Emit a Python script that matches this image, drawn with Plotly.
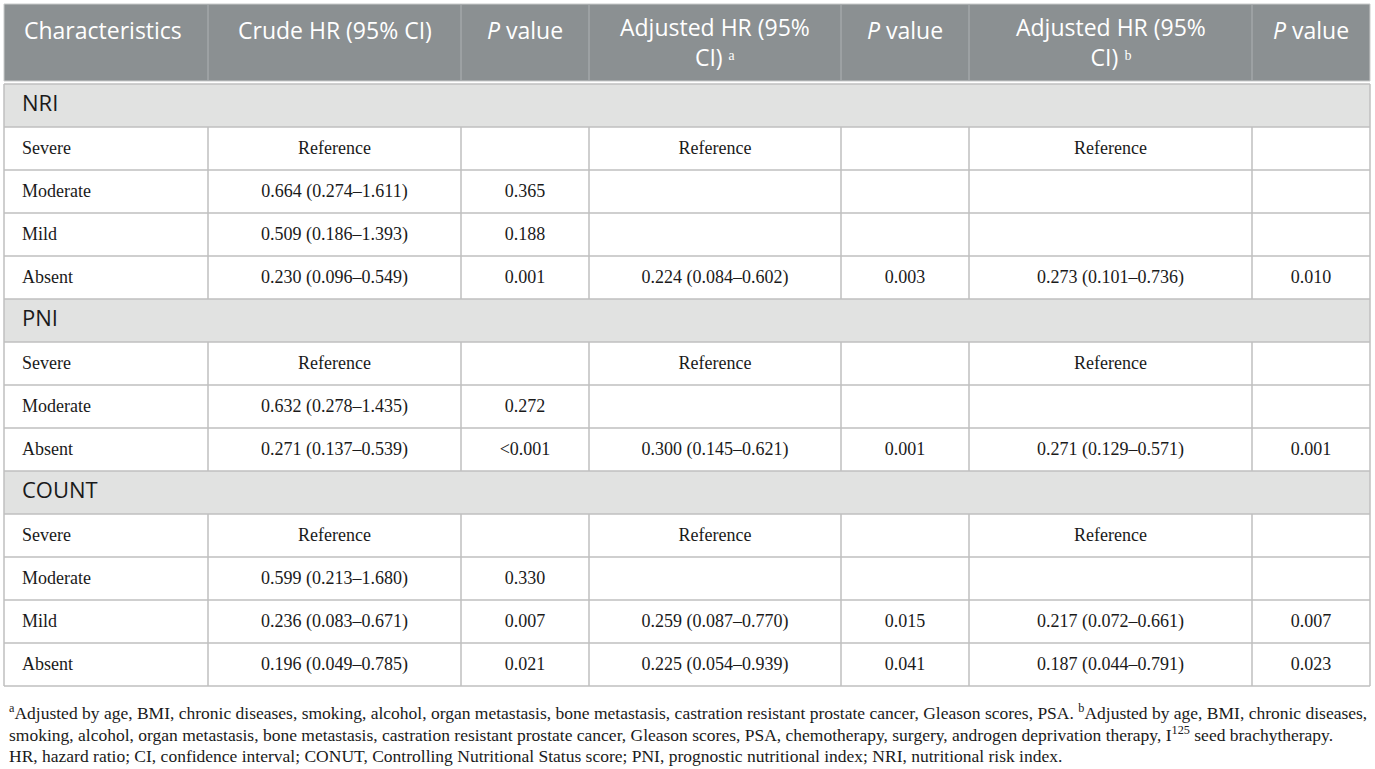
import plotly.graph_objects as go

# table content
headers = ["Characteristics", "Crude HR (95% CI)", "<i>P</i> value",
           "Adjusted HR (95%<br>CI) ᵃ", "<i>P</i> value",
           "Adjusted HR (95%<br>CI) ᵇ", "<i>P</i> value"]

characteristics = ["NRI", "Severe", "Moderate", "Mild", "Absent",
                   "PNI", "Severe", "Moderate", "Absent",
                   "COUNT", "Severe", "Moderate", "Mild", "Absent"]
group_rows = ["NRI", "PNI", "COUNT"]

crude_hr = ["", "Reference", "0.664 (0.274–1.611)", "0.509 (0.186–1.393)", "0.230 (0.096–0.549)",
            "", "Reference", "0.632 (0.278–1.435)", "0.271 (0.137–0.539)",
            "", "Reference", "0.599 (0.213–1.680)", "0.236 (0.083–0.671)", "0.196 (0.049–0.785)"]
crude_p = ["", "", "0.365", "0.188", "0.001",
           "", "", "0.272", "<0.001",
           "", "", "0.330", "0.007", "0.021"]
adj_hr_a = ["", "Reference", "", "", "0.224 (0.084–0.602)",
            "", "Reference", "", "0.300 (0.145–0.621)",
            "", "Reference", "", "0.259 (0.087–0.770)", "0.225 (0.054–0.939)"]
adj_p_a = ["", "", "", "", "0.003",
           "", "", "", "0.001",
           "", "", "", "0.015", "0.041"]
adj_hr_b = ["", "Reference", "", "", "0.273 (0.101–0.736)",
            "", "Reference", "", "0.271 (0.129–0.571)",
            "", "Reference", "", "0.217 (0.072–0.661)", "0.187 (0.044–0.791)"]
adj_p_b = ["", "", "", "", "0.010",
           "", "", "", "0.001",
           "", "", "", "0.007", "0.023"]

footnotes = [
    "<sup>a</sup>Adjusted by age, BMI, chronic diseases, smoking, alcohol, organ metastasis, bone metastasis, castration resistant prostate cancer, Gleason scores, PSA. <sup>b</sup>Adjusted by age, BMI, chronic diseases,",
    "smoking, alcohol, organ metastasis, bone metastasis, castration resistant prostate cancer, Gleason scores, PSA, chemotherapy, surgery, androgen deprivation therapy, I<sup>125</sup> seed brachytherapy.",
    "HR, hazard ratio; CI, confidence interval; CONUT, Controlling Nutritional Status score; PNI, prognostic nutritional index; NRI, nutritional risk index.",
]

# layout (pixel units on the axes)
W, H = 1375, 769
col_edges = [4, 208, 461, 589, 841, 969, 1252, 1370]
header_top, header_bottom = 4, 81
body_top = 84
row_h = 43
pad_left = 18

header_bg = "#8b9092"
group_bg = "#e1e2e1"
grid = "#bfbfbf"
serif = "Liberation Serif"
sans = "Open Sans"

body_cols = [crude_hr, crude_p, adj_hr_a, adj_p_a, adj_hr_b, adj_p_b]
n_rows = len(characteristics)
row_mid = [body_top + row_h * i + row_h / 2 + 1 for i in range(n_rows)]
col_mid = [(col_edges[j] + col_edges[j + 1]) / 2 for j in range(len(col_edges) - 1)]
table_bottom = body_top + row_h * n_rows

shapes = []
# header block
shapes.append(dict(type="rect", x0=col_edges[0], x1=col_edges[-1], y0=header_top, y1=header_bottom,
                   fillcolor=header_bg, line=dict(color="#c9cbcb", width=1), layer="below"))
for xe in col_edges[1:-1]:
    shapes.append(dict(type="line", x0=xe, x1=xe, y0=header_top, y1=header_bottom,
                       line=dict(color="#a9adaf", width=1.2)))

# body rows
for i, name in enumerate(characteristics):
    y0 = body_top + row_h * i
    y1 = y0 + row_h
    if name in group_rows:
        shapes.append(dict(type="rect", x0=col_edges[0], x1=col_edges[-1], y0=y0, y1=y1,
                           fillcolor=group_bg, line=dict(width=0), layer="below"))
    else:
        for xe in col_edges[1:-1]:
            shapes.append(dict(type="line", x0=xe, x1=xe, y0=y0, y1=y1,
                               line=dict(color=grid, width=1.5)))
for i in range(n_rows + 1):
    yy = body_top + row_h * i
    shapes.append(dict(type="line", x0=col_edges[0], x1=col_edges[-1], y0=yy, y1=yy,
                       line=dict(color=grid, width=1.5)))
for xe in (col_edges[0], col_edges[-1]):
    shapes.append(dict(type="line", x0=xe, x1=xe, y0=body_top, y1=table_bottom,
                       line=dict(color=grid, width=1.5)))

fig = go.Figure()

# first column: group labels (sans) and sub-rows (serif)
grp_idx = [i for i, c in enumerate(characteristics) if c in group_rows]
sub_idx = [i for i, c in enumerate(characteristics) if c not in group_rows]
fig.add_trace(go.Scatter(
    x=[col_edges[0] + pad_left] * len(grp_idx), y=[row_mid[i] - 1 for i in grp_idx],
    text=[characteristics[i] for i in grp_idx], mode="text", textposition="middle right",
    textfont=dict(family=sans, size=22, color="#1a1a1a"), hoverinfo="skip"))
fig.add_trace(go.Scatter(
    x=[col_edges[0] + pad_left] * len(sub_idx), y=[row_mid[i] for i in sub_idx],
    text=[characteristics[i] for i in sub_idx], mode="text", textposition="middle right",
    textfont=dict(family=serif, size=18, color="#1a1a1a"), hoverinfo="skip"))

# value columns, skipping empty cells
for j, col in enumerate(body_cols):
    filled = [i for i, v in enumerate(col) if v]
    fig.add_trace(go.Scatter(
        x=[col_mid[j + 1]] * len(filled), y=[row_mid[i] for i in filled],
        text=[col[i] for i in filled], mode="text", textposition="middle center",
        textfont=dict(family=serif, size=18, color="#1a1a1a"), hoverinfo="skip"))

annotations = []
for j, h in enumerate(headers):
    n_lines = h.count("<br>") + 1
    annotations.append(dict(
        x=col_edges[0] + pad_left if j == 0 else col_mid[j], y=30 + 11.5 * (n_lines - 1),
        xref="x", yref="y", text=h, showarrow=False, align="center",
        xanchor="left" if j == 0 else "center", yanchor="middle",
        font=dict(family=sans, size=23, color="white")))

for k, line in enumerate(footnotes):
    annotations.append(dict(
        x=7, y=table_bottom + 26 + 22 * k, xref="x", yref="y", text=line, showarrow=False,
        xanchor="left", yanchor="middle", align="left",
        font=dict(family=serif, size=17.5, color="#1a1a1a")))

fig.update_layout(
    width=W, height=H, margin=dict(l=0, r=0, t=0, b=0),
    paper_bgcolor="white", plot_bgcolor="white", showlegend=False,
    xaxis=dict(range=[0, W], visible=False, fixedrange=True),
    yaxis=dict(range=[H, 0], visible=False, fixedrange=True),
    shapes=shapes, annotations=annotations,
)

fig.write_html("out.html", config={"displayModeBar": False},
               post_script="document.body.style.margin='0';")
